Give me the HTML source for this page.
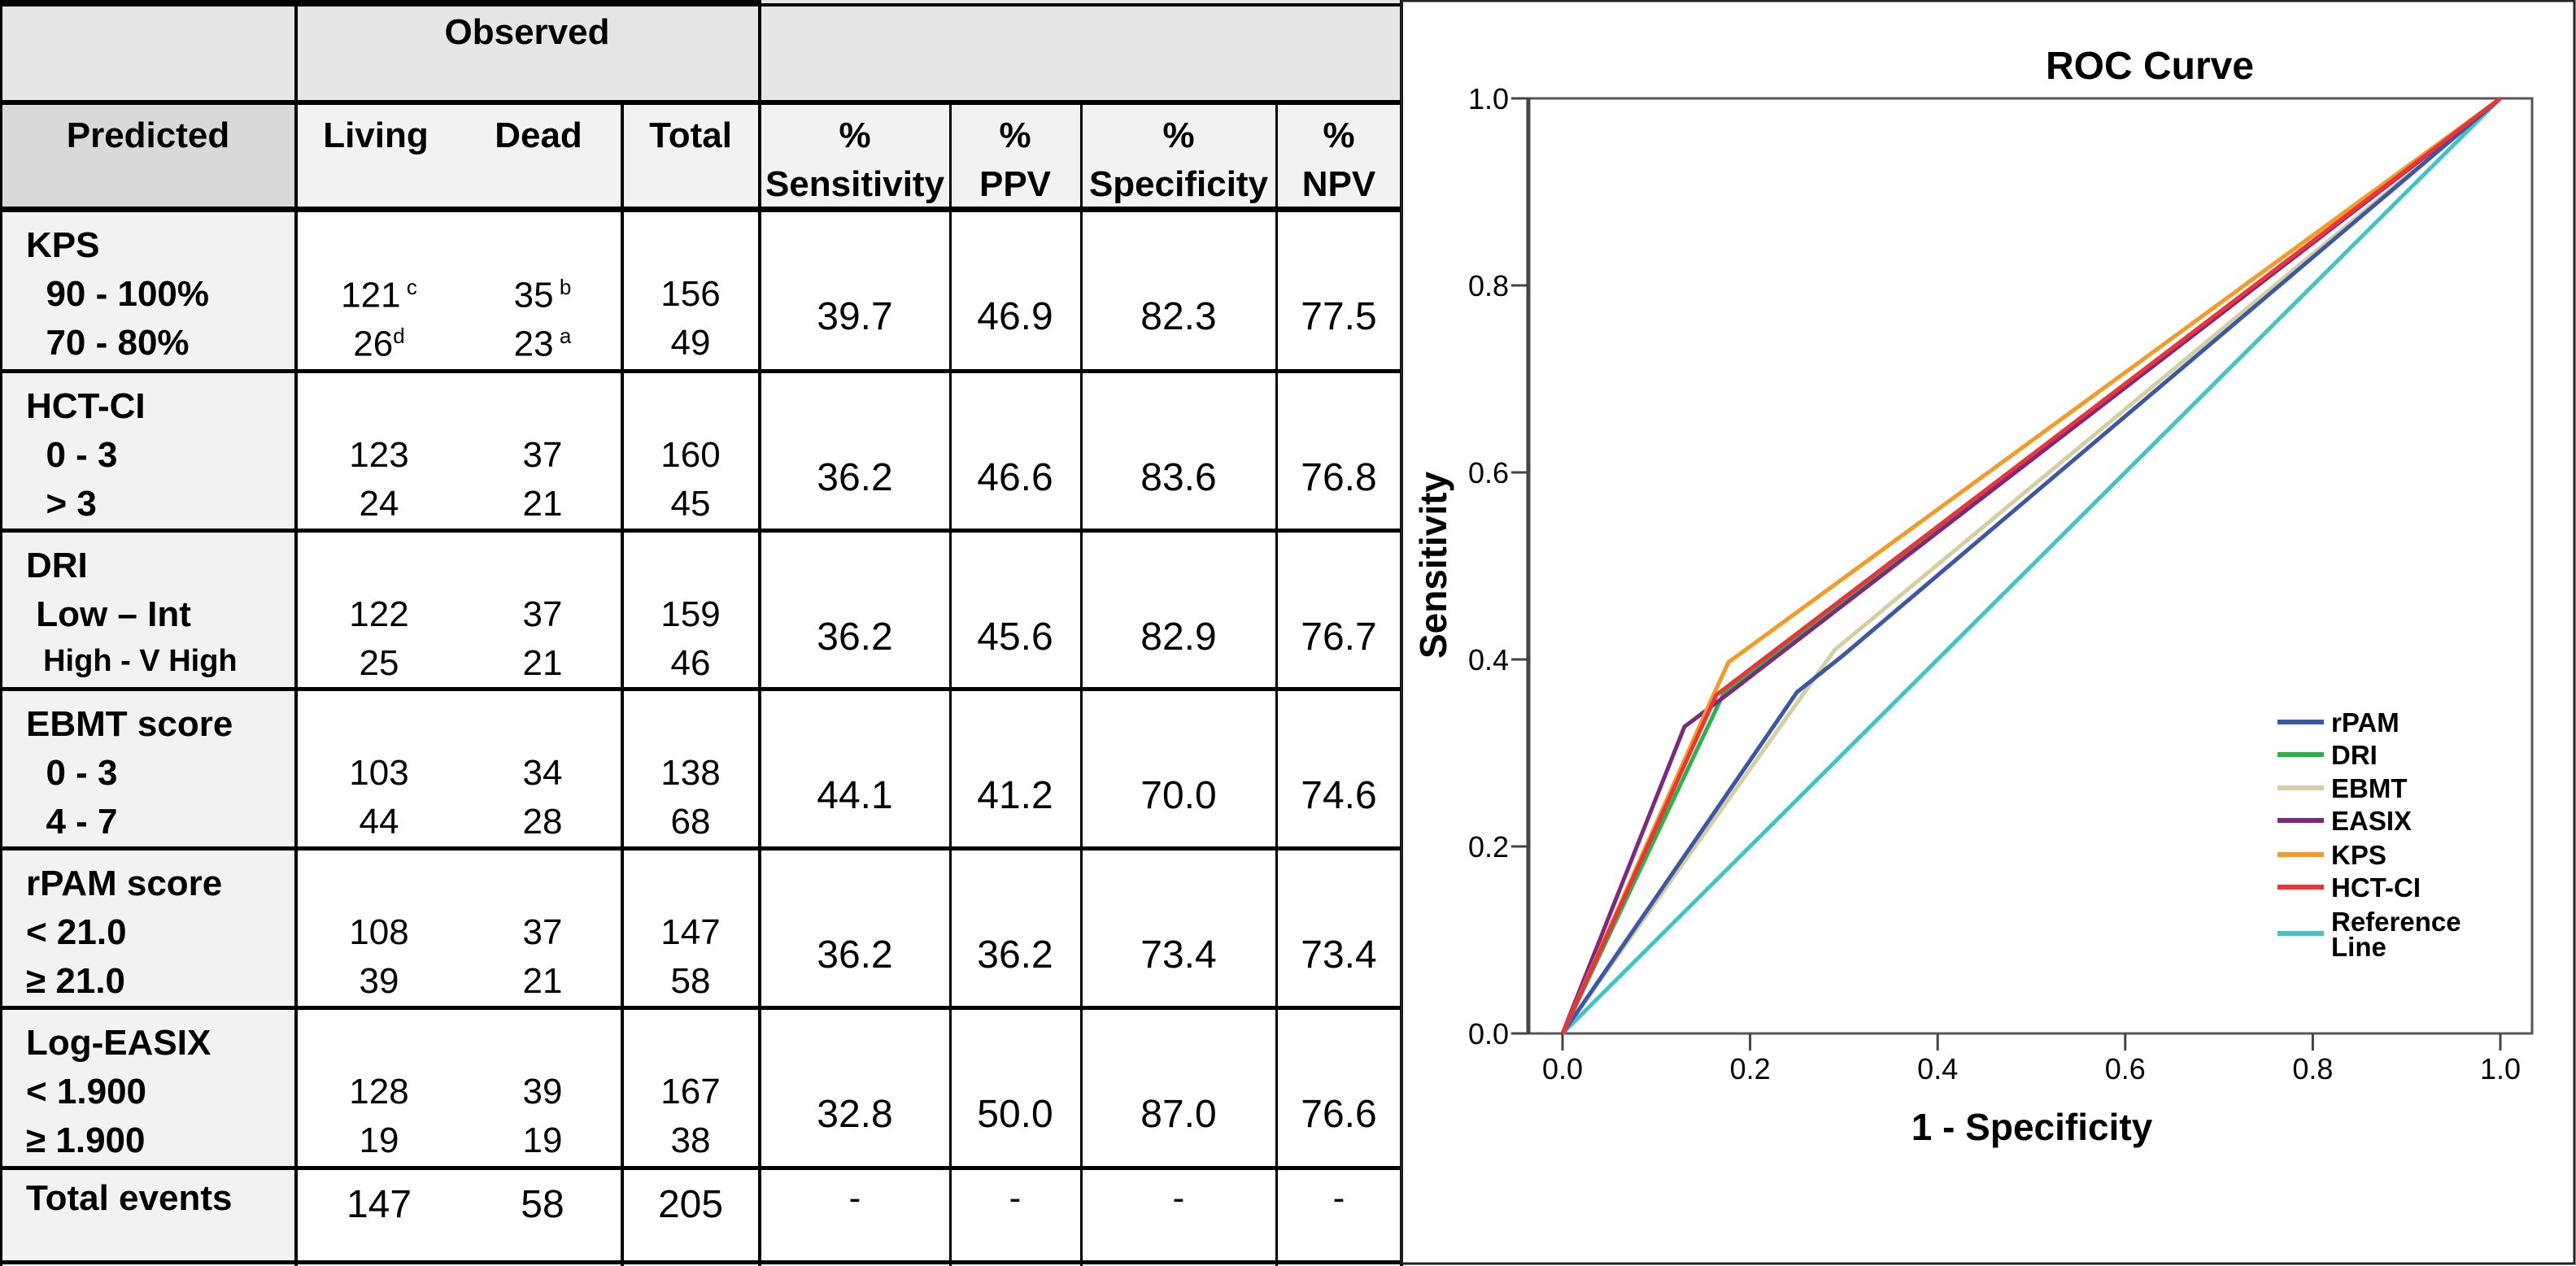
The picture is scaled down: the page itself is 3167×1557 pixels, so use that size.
<!DOCTYPE html>
<html><head><meta charset="utf-8">
<style>
html,body{margin:0;padding:0;background:#fff;}
body{width:3167px;height:1557px;position:relative;overflow:hidden;font-family:"Liberation Sans Narrow","Liberation Sans",sans-serif;}
.c{position:absolute;box-sizing:border-box;color:#000;}
.t{position:absolute;white-space:nowrap;font-size:44px;line-height:1;}
.b{font-weight:bold;}
.hl{position:absolute;background:#000;}
</style></head>
<body>
<div id="table"></div>
<svg id="chart" width="3167" height="1557" style="position:absolute;left:0;top:0;pointer-events:none;font-family:'Liberation Sans',sans-serif"></svg>
<script>
// ---------- TABLE ----------
const T=document.getElementById('table');
function box(x,y,w,h,bg,name){const d=document.createElement('div');d.className='c';d.style.cssText=`left:${x}px;top:${y}px;width:${w}px;height:${h}px;background:${bg}`;


T.appendChild(d);return d;}
function txt(s,x,y,opts){const d=document.createElement('div');d.className='t'+(opts&&opts.b?' b':'');d.innerHTML=s;
let st=`top:${y}px;`;if(opts&&opts.center){st+=`left:${x-300}px;width:600px;text-align:center;`}else st+=`left:${x}px;`;
if(opts&&opts.fs)st+=`font-size:${opts.fs}px;`;d.style.cssText=st;


T.appendChild(d);return d;}
function line(x,y,w,h){const d=document.createElement('div');d.className='hl';d.style.cssText=`left:${x}px;top:${y}px;width:${w}px;height:${h}px`;


T.appendChild(d);}
const rowsY=[258,456,652,847,1043,1239,1436,1553];
box(0,0,1724,125,'#e6e6e6','header-observed-row');
box(0,125,364,133,'#d9d9d9','predicted-header-cell');
box(364,125,1360,133,'#f2f2f2','column-header-row');
box(0,258,364,1295,'#f2f2f2','row-label-column');
line(0,0,934,8);line(934,4,790,4);
line(0,123,1724,6);line(0,254,1724,7);
for(let i=1;i<rowsY.length-1;i++)line(0,rowsY[i]-2,1724,5);
line(0,1550,1724,5);
line(0,0,3,1557);
line(362,0,4,1557);
line(932,0,4,1557);
line(1721,0,4,1557);
line(763,125,4,1432);
for(const x of [1167,1328,1568])line(x,125,3,1432);
txt('Observed',648,18,{b:1,center:1,name:'observed-header'});
txt('Predicted',182,145,{b:1,center:1,name:'predicted-header'});
txt('Living',462,145,{b:1,center:1,name:'living-header'});
txt('Dead',662,145,{b:1,center:1,name:'dead-header'});
txt('Total',849,145,{b:1,center:1,name:'total-header'});
const hdr=[['Sensitivity',1051],['PPV',1248],['Specificity',1449],['NPV',1646]];
for(const [h,x] of hdr){txt('%',x,145,{b:1,center:1,name:'percent-header'});txt(h,x,205,{b:1,center:1,name:h.toLowerCase()+'-header'});}
const rows=[
 ['KPS','&nbsp;&nbsp;90 - 100%','&nbsp;&nbsp;70 - 80%','121<sup style="font-size:26px">&nbsp;c</sup>','26<sup style="font-size:26px">d</sup>','35<sup style="font-size:26px">&nbsp;b</sup>','23<sup style="font-size:26px">&nbsp;a</sup>','156','49','39.7','46.9','82.3','77.5'],
 ['HCT-CI','&nbsp;&nbsp;0 - 3','&nbsp;&nbsp;&gt; 3','123','24','37','21','160','45','36.2','46.6','83.6','76.8'],
 ['DRI','&nbsp;Low – Int','&nbsp;&nbsp;High - V High','122','25','37','21','159','46','36.2','45.6','82.9','76.7'],
 ['EBMT score','&nbsp;&nbsp;0 - 3','&nbsp;&nbsp;4 - 7','103','44','34','28','138','68','44.1','41.2','70.0','74.6'],
 ['rPAM score','&lt; 21.0','≥ 21.0','108','39','37','21','147','58','36.2','36.2','73.4','73.4'],
 ['Log-EASIX','&lt; 1.900','≥ 1.900','128','19','39','19','167','38','32.8','50.0','87.0','76.6']];
rows.forEach((r,i)=>{const y=rowsY[i];
 txt(r[0],32,y+22,{b:1,name:'row-label'});
 txt(r[1],32,y+82,{b:1,fs:r[1].includes('High - V')?38:44,name:'row-sublabel'});
 txt(r[2],32,y+142,{b:1,fs:r[2].includes('High - V')?38:44,name:'row-sublabel'});
 txt(r[3],466,y+82,{center:1,name:'living-value'});txt(r[4],466,y+142,{center:1,name:'living-value'});
 txt(r[5],667,y+82,{center:1,name:'dead-value'});txt(r[6],667,y+142,{center:1,name:'dead-value'});
 txt(r[7],849,y+82,{center:1,name:'total-value'});txt(r[8],849,y+142,{center:1,name:'total-value'});
 [1051,1248,1449,1646].forEach((x,k)=>txt(r[9+k],x,y+108,{center:1,fs:48,name:'metric-value'}));
});
txt('Total events',32,1452,{b:1,name:'total-events-label'});
txt('147',466,1458,{center:1,fs:48,name:'total-living'});txt('58',667,1458,{center:1,fs:48,name:'total-dead'});txt('205',849,1458,{center:1,fs:48,name:'total-total'});
[1051,1248,1449,1646].forEach(x=>txt('-',x,1452,{center:1,name:'dash'}));

// ---------- CHART ----------
const seriesNames=['rPAM','DRI','EBMT','EASIX','KPS','HCT-CI'];
const seriesColors=['#3c57a8','#27b548','#d4cf9e','#7b2a7f','#f59a25','#ee3338'];
// ROC points between (0,0) and (1,1), per series (x = 1-specificity, y = sensitivity)
const rpamX=[0,0.250,0.300,1], rpamY=[0,0.365,0.405,1];
const driX=[0,0.171,1], driY=[0,0.362,1];
const ebmtX=[0,0.290,1], ebmtY=[0,0.410,1];
const easixX=[0,0.130,0.175,1], easixY=[0,0.328,0.362,1];
const kpsX=[0,0.160,0.177,1], kpsY=[0,0.360,0.397,1];
const hctX=[0,0.164,1], hctY=[0,0.362,1];
const seriesX=[rpamX,driX,ebmtX,easixX,kpsX,hctX];
const seriesY=[rpamY,driY,ebmtY,easixY,kpsY,hctY];
const tickValues=[0,0.2,0.4,0.6,0.8,1.0];
const tickLabels=['0.0','0.2','0.4','0.6','0.8','1.0'];
const X0=1921,XW=1153,Y0=1271,YH=1150;
const sx=v=>X0+v*XW, sy=v=>Y0-v*YH;
const S=document.getElementById('chart'),NS='http://www.w3.org/2000/svg';
function el(tag,attrs,parent){const e=document.createElementNS(NS,tag);for(const k in attrs)e.setAttribute(k,attrs[k]);(parent||S).appendChild(e);return e;}
const fr=el('rect',{x:1879,y:121,width:3113-1879,height:1150,fill:'none',stroke:'#555',"stroke-width":3});


const ya=el('line',{x1:1879,y1:121,x2:1879,y2:1271,stroke:'#444',"stroke-width":5});


tickValues.forEach((v,i)=>{
 const a=el('line',{x1:1858,y1:sy(v),x2:1879,y2:sy(v),stroke:'#444',"stroke-width":3});
 
 
 const t=el('text',{x:1855,y:sy(v)+13,"text-anchor":'end',"font-size":36});t.textContent=tickLabels[i];
 
 
 const b=el('line',{x1:sx(v),y1:1271,x2:sx(v),y2:1292,stroke:'#444',"stroke-width":3});
 
 
 const u=el('text',{x:sx(v),y:1327,"text-anchor":'middle',"font-size":36});u.textContent=tickLabels[i];
 
 
});
const ref=el('line',{x1:sx(0),y1:sy(0),x2:sx(1),y2:sy(1),stroke:'#40c4c8',"stroke-width":5});


const order=[2,0,1,3,4,5];
order.forEach(i=>{
 const pts=seriesX[i].map((x,k)=>`${sx(x)},${sy(seriesY[i][k])}`).join(' ');
 const p=el('polyline',{points:pts,fill:'none',stroke:seriesColors[i],"stroke-width":5,"stroke-linejoin":'round'});
 
 
});
const ti=el('text',{x:2643,y:97,"text-anchor":'middle',"font-size":48,"font-weight":'bold'});ti.textContent='ROC Curve';


const xt=el('text',{x:2498,y:1402,"text-anchor":'middle',"font-size":46,"font-weight":'bold'});xt.textContent='1 - Specificity';


const yt=el('text',{x:0,y:0,"text-anchor":'middle',"font-size":46,"font-weight":'bold',transform:'translate(1778,695) rotate(-90)'});yt.textContent='Sensitivity';


const legY=[888,928,969,1009,1051,1091];
seriesNames.forEach((n,i)=>{
 const l=el('line',{x1:2800,y1:legY[i],x2:2857,y2:legY[i],stroke:seriesColors[i],"stroke-width":6});
 
 
 const t=el('text',{x:2866,y:legY[i]+12,"font-size":33,"font-weight":'bold'});t.textContent=n;
 
 
});
const rl=el('line',{x1:2800,y1:1148,x2:2857,y2:1148,stroke:'#40c4c8',"stroke-width":6});


const r1=el('text',{x:2866,y:1145,"font-size":33,"font-weight":'bold'});r1.textContent='Reference';


const r2=el('text',{x:2866,y:1176,"font-size":33,"font-weight":'bold'});r2.textContent='Line';


const pb=el('rect',{x:1723,y:1,width:3165-1723,height:1553,fill:'none',stroke:'#222',"stroke-width":3});


</script>
</body></html>
